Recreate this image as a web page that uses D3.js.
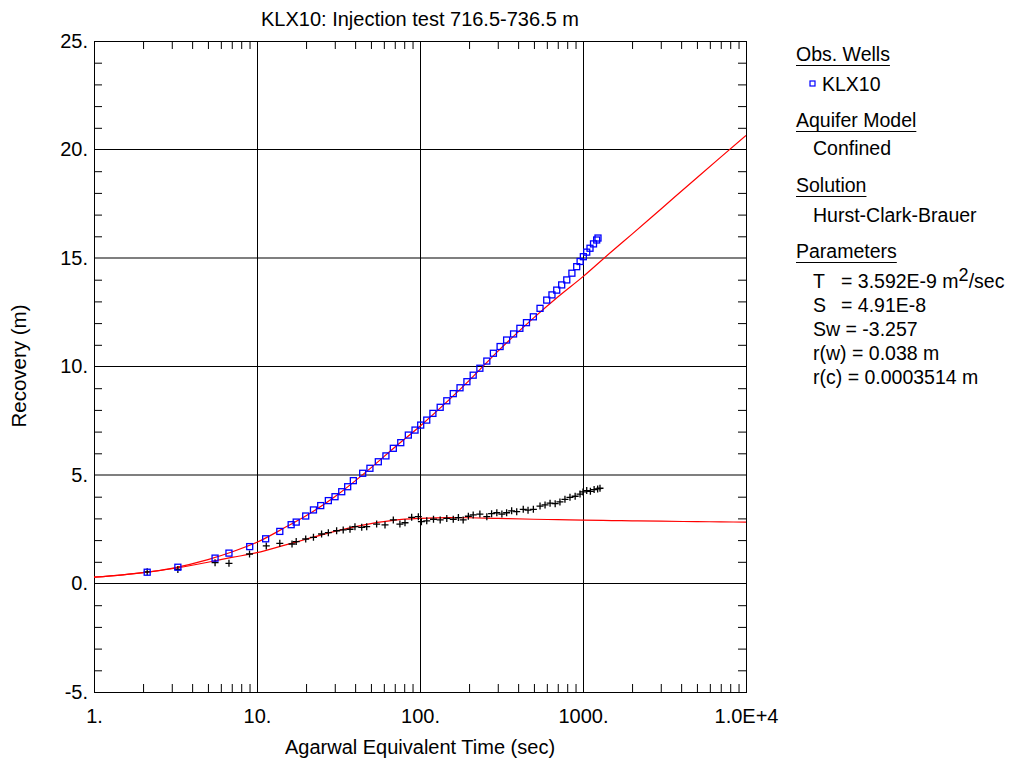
<!DOCTYPE html>
<html><head><meta charset="utf-8">
<script src="https://cdn.jsdelivr.net/npm/d3@7"></script>
<style>
body{margin:0;background:#fff;}
svg text{font-family:"Liberation Sans",Arial,sans-serif;fill:#000;}
</style></head>
<body><svg id="c" width="1026" height="764"></svg>
<script>
// ---- data ----
const title = "KLX10: Injection test 716.5-736.5 m";
const xLabel = "Agarwal Equivalent Time (sec)";
const yLabel = "Recovery (m)";
const xTickValues = [1, 10, 100, 1000, 10000];
const xTickLabels = ["1.", "10.", "100.", "1000.", "1.0E+4"];
const yTickValues = [-5, 0, 5, 10, 15, 20, 25];
const yTickLabels = ["-5.", "0.", "5.", "10.", "15.", "20.", "25."];

// observed recovery (blue squares)
const obsTime = [2.12, 3.27, 5.53, 6.73, 9.02, 11.3, 13.8, 16.2, 17.4, 19.9, 22.2, 24.6, 27.4, 30.1, 33.1, 36.0, 39.0, 44.5, 49.3, 55.5, 61.8, 68.6, 76.2, 84.8, 93.2, 101, 110, 120, 133, 146, 160, 176, 194, 212, 233, 257, 282, 310, 340, 375, 410, 450, 496, 545, 599, 645, 690, 740, 795, 855, 915, 960, 1005, 1054, 1104, 1160, 1213, 1236];
const obsRecovery = [0.52, 0.75, 1.17, 1.40, 1.70, 2.06, 2.40, 2.71, 2.83, 3.11, 3.39, 3.59, 3.82, 4.00, 4.23, 4.46, 4.74, 5.08, 5.31, 5.61, 5.88, 6.23, 6.49, 6.84, 7.07, 7.30, 7.53, 7.84, 8.12, 8.42, 8.75, 9.02, 9.30, 9.60, 9.92, 10.25, 10.61, 10.92, 11.22, 11.50, 11.76, 12.02, 12.29, 12.68, 13.06, 13.30, 13.52, 13.76, 13.99, 14.30, 14.60, 14.84, 15.06, 15.27, 15.45, 15.65, 15.83, 15.92];

// derivative (black crosses)
const derivTime = [2.12, 3.27, 5.53, 6.73, 9.0, 11.4, 13.8, 16.4, 17.4, 19.9, 22.2, 24.9, 27.4, 30.8, 33.8, 37.2, 39.9, 43.9, 47.1, 54.2, 61.0, 68.6, 75.3, 80.9, 88.9, 97.7, 102, 110, 121, 133, 146, 160, 172, 184, 198, 212, 233, 257, 275, 296, 318, 340, 365, 392, 430, 460, 496, 545, 585, 628, 675, 722, 775, 832, 895, 959, 1000, 1054, 1110, 1170, 1230, 1271];
const derivValue = [0.54, 0.65, 0.96, 0.93, 1.36, 1.73, 1.85, 1.82, 1.93, 2.05, 2.13, 2.28, 2.34, 2.43, 2.47, 2.50, 2.62, 2.59, 2.62, 2.74, 2.70, 2.93, 2.74, 2.80, 3.05, 3.08, 2.85, 2.89, 2.96, 2.93, 3.00, 2.96, 3.04, 2.93, 3.10, 3.16, 3.20, 3.08, 3.22, 3.26, 3.20, 3.26, 3.35, 3.31, 3.42, 3.38, 3.42, 3.57, 3.62, 3.70, 3.68, 3.76, 3.88, 3.97, 4.02, 4.12, 4.22, 4.28, 4.25, 4.33, 4.36, 4.39];

// fitted model (red lines)
const modelTime = [1, 1.5, 2, 3, 5, 7, 10, 15, 20, 30, 50, 70, 100, 150, 200, 300, 500, 700, 1000, 1500, 2000, 3000, 5000, 7000, 10000];
const modelRecovery = [0.29, 0.40, 0.50, 0.70, 1.10, 1.45, 1.90, 2.60, 3.12, 4.00, 5.33, 6.28, 7.25, 8.45, 9.35, 10.70, 12.25, 13.20, 14.14, 15.30, 16.10, 17.25, 18.70, 19.65, 20.65];
const modelDeriv = [0.29, 0.40, 0.50, 0.68, 0.98, 1.20, 1.42, 1.78, 2.04, 2.40, 2.76, 2.92, 3.00, 3.04, 3.03, 3.00, 2.96, 2.94, 2.92, 2.90, 2.89, 2.87, 2.85, 2.84, 2.83];

// legend / parameters text
const legendHeaders = ["Obs. Wells", "Aquifer Model", "Solution", "Parameters"];
const wellName = "KLX10";
const aquiferModel = "Confined";
const solutionName = "Hurst-Clark-Brauer";
const paramLabels = ["T", "S"];
const paramValues = ["= 3.592E-9 m", "= 4.91E-8"];
const paramLines = ["Sw = -3.257", "r(w) = 0.038 m", "r(c) = 0.0003514 m"];

// ---- drawing ----
const svg = d3.select("#c");
const L = 94, R = 746, T = 41, B = 692;
const x = d3.scaleLog().domain([1, 10000]).range([L, R]);
const y = d3.scaleLinear().domain([-5, 25]).range([B, T]);

// grid lines at major ticks
const g = svg.append("g");
g.selectAll(".vg").data(xTickValues.slice(1, -1)).enter().append("line")
  .attr("x1", d => Math.round(x(d)) + 0.5).attr("x2", d => Math.round(x(d)) + 0.5)
  .attr("y1", T).attr("y2", B).attr("stroke", "#000").attr("stroke-width", 1);
g.selectAll(".hg").data(yTickValues.slice(1, -1)).enter().append("line")
  .attr("x1", L).attr("x2", R)
  .attr("y1", d => y(d)).attr("y2", d => y(d))
  .attr("stroke", "#000").attr("stroke-width", 1.2);

// minor ticks via axes
const xMinor = [];
for (let dec = 1; dec < 10000; dec *= 10) for (let k = 2; k <= 9; k++) xMinor.push(dec * k);
const yMinor = d3.range(-5, 26, 1).filter(v => v % 5 !== 0);
const tl = 8;
svg.append("g").attr("transform", `translate(0,${B})`)
  .call(d3.axisTop(x).tickValues(xMinor).tickSize(tl).tickFormat(""))
  .call(a => a.select(".domain").remove());
svg.append("g").attr("transform", `translate(0,${T})`)
  .call(d3.axisBottom(x).tickValues(xMinor).tickSize(tl).tickFormat(""))
  .call(a => a.select(".domain").remove());
svg.append("g").attr("transform", `translate(${L},0)`)
  .call(d3.axisRight(y).tickValues(yMinor).tickSize(tl).tickFormat(""))
  .call(a => a.select(".domain").remove());
svg.append("g").attr("transform", `translate(${R},0)`)
  .call(d3.axisLeft(y).tickValues(yMinor).tickSize(tl).tickFormat(""))
  .call(a => a.select(".domain").remove());

// major tick labels via axes
const lfs = 20;
svg.append("g").attr("transform", `translate(0,${B})`)
  .call(d3.axisBottom(x).tickValues(xTickValues).tickSize(0).tickPadding(17)
    .tickFormat((d, i) => xTickLabels[i]))
  .call(a => a.select(".domain").remove())
  .selectAll("text").attr("font-size", lfs).attr("font-family", "Liberation Sans, Arial");
svg.append("g").attr("transform", `translate(${L},0)`)
  .call(d3.axisLeft(y).tickValues(yTickValues).tickSize(0).tickPadding(6)
    .tickFormat((d, i) => yTickLabels[i]))
  .call(a => a.select(".domain").remove())
  .selectAll("text").attr("font-size", lfs).attr("font-family", "Liberation Sans, Arial");

// frame
svg.append("rect").attr("x", L + 0.5).attr("y", T + 0.5).attr("width", R - L).attr("height", B - T)
  .attr("fill", "none").attr("stroke", "#000").attr("stroke-width", 1);

// clip
svg.append("clipPath").attr("id", "clip").append("rect")
  .attr("x", L).attr("y", T).attr("width", R - L).attr("height", B - T);
const plot = svg.append("g").attr("clip-path", "url(#clip)");

// model lines
const line = d3.line().x(d => x(d[0])).y(d => y(d[1])).curve(d3.curveMonotoneX);
plot.append("path").datum(modelTime.map((t, i) => [t, modelRecovery[i]]))
  .attr("d", line).attr("fill", "none").attr("stroke", "#ff0000").attr("stroke-width", 1.2);
plot.append("path").datum(modelTime.map((t, i) => [t, modelDeriv[i]]))
  .attr("d", line).attr("fill", "none").attr("stroke", "#ff0000").attr("stroke-width", 1.2);

// derivative crosses
const cs = 3.5;
plot.selectAll(".cr").data(derivTime.map((t, i) => [t, derivValue[i]])).enter().append("path")
  .attr("d", d => `M${x(d[0]) - cs},${y(d[1])}H${x(d[0]) + cs}M${x(d[0])},${y(d[1]) - cs}V${y(d[1]) + cs}`)
  .attr("stroke", "#000").attr("stroke-width", 1.3).attr("fill", "none");

// observed squares
const sq = 6;
plot.selectAll(".sq").data(obsTime.map((t, i) => [t, obsRecovery[i]])).enter().append("rect")
  .attr("x", d => x(d[0]) - sq / 2).attr("y", d => y(d[1]) - sq / 2)
  .attr("width", sq).attr("height", sq)
  .attr("fill", "none").attr("stroke", "#0000ff").attr("stroke-width", 1.3);

// titles
svg.append("text").attr("x", 420).attr("y", 26).attr("text-anchor", "middle")
  .attr("font-size", 20).text(title);
svg.append("text").attr("x", 420).attr("y", 754).attr("text-anchor", "middle")
  .attr("font-size", 20).text(xLabel);
svg.append("text").attr("transform", "translate(26,366) rotate(-90)").attr("text-anchor", "middle")
  .attr("font-size", 20.5).text(yLabel);

// legend
const fs = 19.5;
const headerY = [61, 127, 192, 258];
legendHeaders.forEach((h, i) => {
  const t = svg.append("text").attr("x", 796).attr("y", headerY[i]).attr("font-size", fs).text(h);
  const w = t.node().getComputedTextLength();
  svg.append("line").attr("x1", 796).attr("x2", 796 + w).attr("y1", headerY[i] + 4.5).attr("y2", headerY[i] + 4.5)
    .attr("stroke", "#000").attr("stroke-width", 1);
});
svg.append("rect").attr("x", 810).attr("y", 81).attr("width", 5).attr("height", 5)
  .attr("fill", "none").attr("stroke", "#0000ff").attr("stroke-width", 1.2);
svg.append("text").attr("x", 822).attr("y", 91).attr("font-size", fs).text(wellName);
svg.append("text").attr("x", 813).attr("y", 155).attr("font-size", fs).text(aquiferModel);
svg.append("text").attr("x", 813).attr("y", 222).attr("font-size", fs).text(solutionName);
const pY = [288, 312, 336, 360, 384];
paramLabels.forEach((p, i) => {
  svg.append("text").attr("x", 813).attr("y", pY[i]).attr("font-size", fs).text(p);
  const t = svg.append("text").attr("x", 841).attr("y", pY[i]).attr("font-size", fs).text(paramValues[i]);
  if (i === 0) {
    t.append("tspan").attr("dy", -7).attr("font-size", 18).text("2");
    t.append("tspan").attr("dy", 7).text("/sec");
  }
});
paramLines.forEach((p, i) => {
  svg.append("text").attr("x", 813).attr("y", pY[i + 2]).attr("font-size", fs).text(p);
});
</script></body></html>
